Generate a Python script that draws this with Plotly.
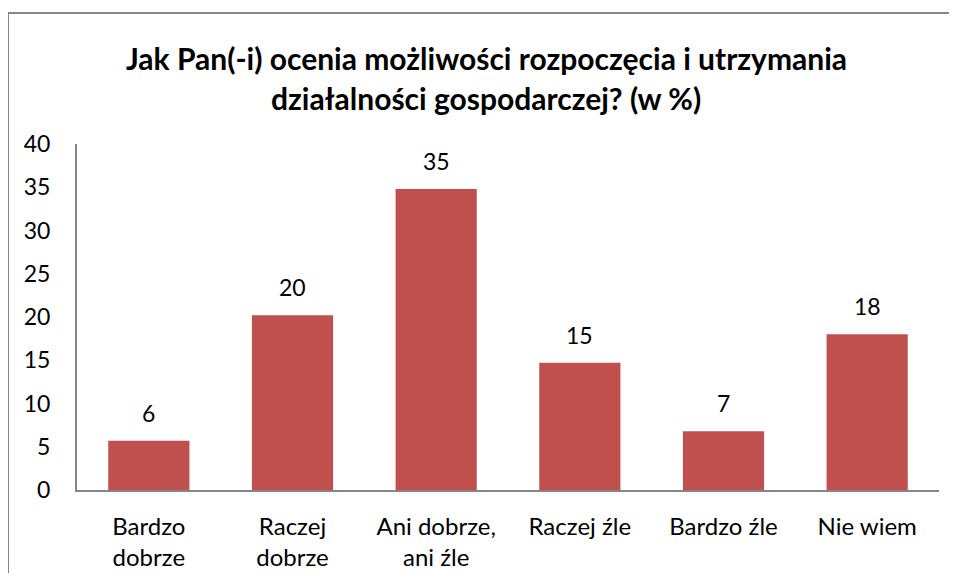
import plotly.graph_objects as go

categories = ["Bardzo<br>dobrze", "Raczej<br>dobrze", "Ani dobrze,<br>ani źle", "Raczej źle", "Bardzo źle", "Nie wiem"]
values = [5.7, 20.2, 34.8, 14.7, 6.8, 18.0]
value_labels = ["6", "20", "35", "15", "7", "18"]
y_ticks = [0, 5, 10, 15, 20, 25, 30, 35, 40]
title_lines = ["Jak Pan(-i) ocenia możliwości rozpoczęcia i utrzymania",
               "działalności gospodarczej? (w %)"]

FONT = "Lato"
BAR = "#C0504D"
AXIS = "#868686"

# page body has an 8px margin; figure sized so that it fits the 957x581 window
W, H = 949, 565
L, T, R, B = 69, 136, 18, 83
PW, PH = W - L - R, H - T - B

fig = go.Figure(go.Bar(
    x=categories, y=values,
    marker=dict(color=BAR, line=dict(width=0)),
    hoverinfo="skip",
))

for c, v, t in zip(categories, values, value_labels):
    fig.add_annotation(x=c, y=v, text=t, showarrow=False, xref="x", yref="y",
                       yanchor="bottom", yshift=12,
                       font=dict(family=FONT, size=23, color="#000000"))

for i, line in enumerate(title_lines):
    fig.add_annotation(x=(478 - L) / PW, y=1, xref="paper", yref="paper", text="<b>%s</b>" % line,
                       showarrow=False, xanchor="center", yanchor="middle",
                       yshift=(T - 50) - 40 * i,
                       font=dict(family=FONT, size=30, color="#000000"))

# chart-area border: only the top and left edges are inside the picture
x_left = -L / PW
y_top = 1 + (T - 5) / PH
fig.add_shape(type="line", xref="paper", yref="paper",
              x0=x_left, x1=1 + 60 / PW, y0=y_top, y1=y_top,
              line=dict(color=AXIS, width=2), layer="below")
fig.add_shape(type="line", xref="paper", yref="paper",
              x0=x_left, x1=x_left, y0=-120 / PH, y1=y_top,
              line=dict(color=AXIS, width=2), layer="below")

fig.update_layout(
    width=W, height=H,
    margin=dict(l=L, r=R, t=T, b=B),
    paper_bgcolor="white", plot_bgcolor="white",
    bargap=0.435,
    showlegend=False,
    font=dict(family=FONT, size=23, color="#000000"),
    xaxis=dict(showline=True, linecolor=AXIS, linewidth=2, showgrid=False, automargin=False,
               ticks="", tickfont=dict(family=FONT, size=24), ticklabelstandoff=14),
    yaxis=dict(range=[0, 40], tickvals=y_ticks, showline=True, linecolor=AXIS, linewidth=2,
               showgrid=False, zeroline=False, ticks="", ticklabelstandoff=20, automargin=False,
               tickfont=dict(family=FONT, size=23)),
)

fig.write_html("out.html")
